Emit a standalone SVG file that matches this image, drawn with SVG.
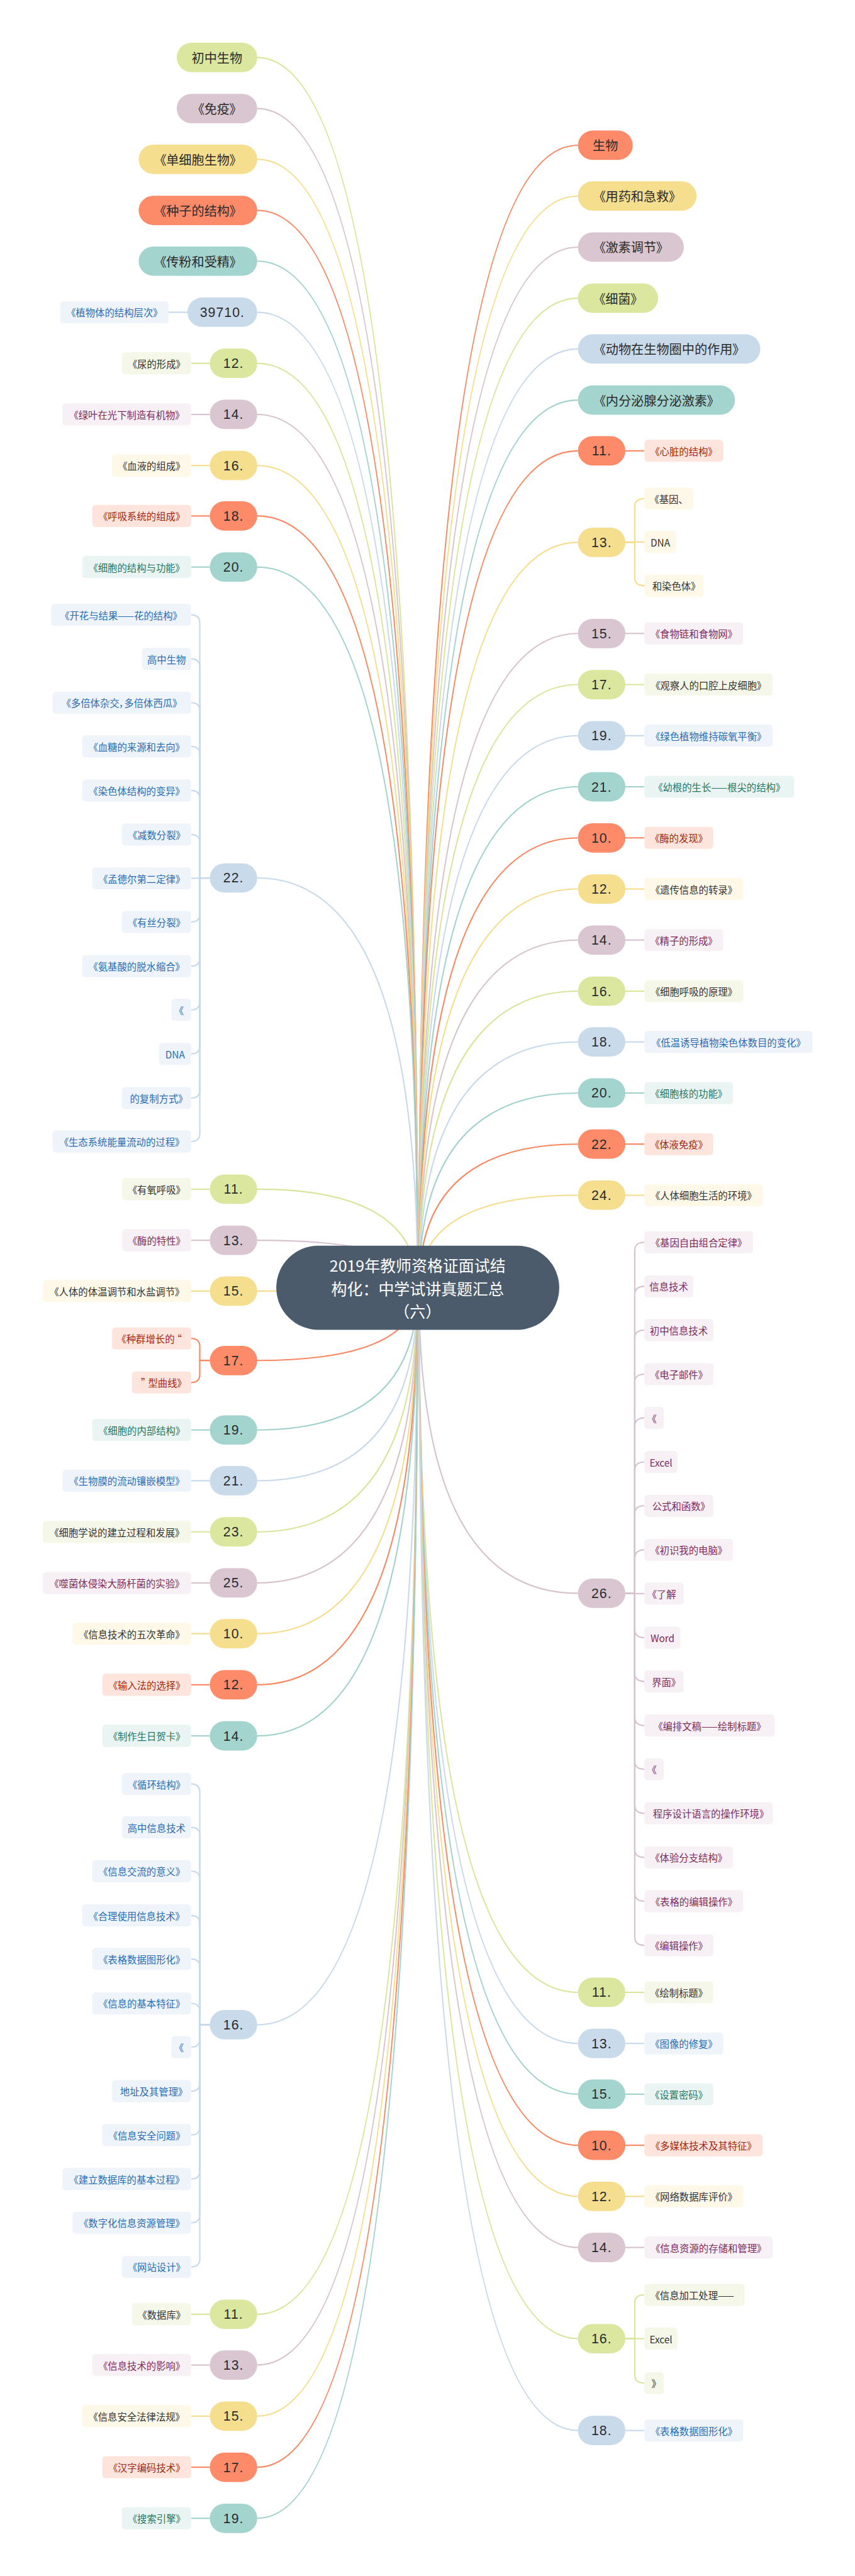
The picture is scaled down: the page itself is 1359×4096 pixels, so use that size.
<svg xmlns="http://www.w3.org/2000/svg" width="1359" height="4096" viewBox="0 0 1359 4096">
<style>
text{font-family:"Noto Sans CJK SC","Noto Sans",sans-serif;dominant-baseline:central;text-anchor:middle;font-feature-settings:"palt"}
.t1{font-size:38px;fill:#2b2b2b}
.tn{font-family:"Liberation Sans","Noto Sans",sans-serif;font-size:40px;fill:#2b2b2b;letter-spacing:2px}
.t2{font-size:29px}
.tc{font-size:47px;fill:#fff;font-feature-settings:normal}
.pg{fill:#dbe79e}.pm{fill:#d9c6d0}.py{fill:#f6de8f}.po{fill:#fd8a68}.pt{fill:#a4d4ce}.pb{fill:#c9dbeb}
.cg{fill:#f5f8e9}.cm{fill:#f7f0f4}.cy{fill:#fdf8e7}.co{fill:#fde5dd}.ct{fill:#eaf5f3}.cb{fill:#eef4fa}
.xg,.xy{fill:#333}.xm{fill:#7e2b5e}.xo{fill:#a3260e}.xt{fill:#1e7766}.xb{fill:#2a6cb3}
#connectors path{fill:none;stroke-width:4}
.sg{stroke:#d8e59b}.sm{stroke:#d7c3ce}.sy{stroke:#f4dd8d}.so{stroke:#f98762}.st{stroke:#a2d2cc}.sb{stroke:#c7d9ea}
</style>
<rect width="1359" height="4096" fill="#fff"/>
<g transform="scale(0.531)">
<g id="connectors">
<path class="sg" d="M770 172Q1250 172 1250 3856"/>
<path class="sm" d="M770 325Q1250 325 1250 3856"/>
<path class="sy" d="M770 477Q1250 477 1250 3856"/>
<path class="so" d="M770 630Q1250 630 1250 3856"/>
<path class="st" d="M770 782Q1250 782 1250 3856"/>
<path class="sb" d="M770 935Q1250 935 1250 3856"/>
<path class="sg" d="M770 1088Q1250 1088 1250 3856"/>
<path class="sm" d="M770 1241Q1250 1241 1250 3856"/>
<path class="sy" d="M770 1394Q1250 1394 1250 3856"/>
<path class="so" d="M770 1545Q1250 1545 1250 3856"/>
<path class="st" d="M770 1698Q1250 1698 1250 3856"/>
<path class="sb" d="M770 2629Q1250 2629 1250 3856"/>
<path class="sg" d="M770 3561Q1250 3561 1250 3856"/>
<path class="sm" d="M770 3714Q1250 3714 1250 3856"/>
<path class="sy" d="M770 3866Q1250 3866 1250 3856"/>
<path class="so" d="M770 4074Q1250 4074 1250 3856"/>
<path class="st" d="M770 4282Q1250 4282 1250 3856"/>
<path class="sb" d="M770 4434Q1250 4434 1250 3856"/>
<path class="sg" d="M770 4587Q1250 4587 1250 3856"/>
<path class="sm" d="M770 4740Q1250 4740 1250 3856"/>
<path class="sy" d="M770 4892Q1250 4892 1250 3856"/>
<path class="so" d="M770 5045Q1250 5045 1250 3856"/>
<path class="st" d="M770 5198Q1250 5198 1250 3856"/>
<path class="sb" d="M770 6063Q1250 6063 1250 3856"/>
<path class="sg" d="M770 6930Q1250 6930 1250 3856"/>
<path class="sm" d="M770 7082Q1250 7082 1250 3856"/>
<path class="sy" d="M770 7235Q1250 7235 1250 3856"/>
<path class="so" d="M770 7388Q1250 7388 1250 3856"/>
<path class="st" d="M770 7541Q1250 7541 1250 3856"/>
<path class="so" d="M1730 435Q1254 435 1254 3856"/>
<path class="sy" d="M1730 587Q1254 587 1254 3856"/>
<path class="sm" d="M1730 740Q1254 740 1254 3856"/>
<path class="sg" d="M1730 893Q1254 893 1254 3856"/>
<path class="sb" d="M1730 1045Q1254 1045 1254 3856"/>
<path class="st" d="M1730 1198Q1254 1198 1254 3856"/>
<path class="so" d="M1730 1350Q1254 1350 1254 3856"/>
<path class="sy" d="M1730 1624Q1254 1624 1254 3856"/>
<path class="sm" d="M1730 1897Q1254 1897 1254 3856"/>
<path class="sg" d="M1730 2050Q1254 2050 1254 3856"/>
<path class="sb" d="M1730 2203Q1254 2203 1254 3856"/>
<path class="st" d="M1730 2356Q1254 2356 1254 3856"/>
<path class="so" d="M1730 2509Q1254 2509 1254 3856"/>
<path class="sy" d="M1730 2662Q1254 2662 1254 3856"/>
<path class="sm" d="M1730 2815Q1254 2815 1254 3856"/>
<path class="sg" d="M1730 2968Q1254 2968 1254 3856"/>
<path class="sb" d="M1730 3120Q1254 3120 1254 3856"/>
<path class="st" d="M1730 3273Q1254 3273 1254 3856"/>
<path class="so" d="M1730 3426Q1254 3426 1254 3856"/>
<path class="sy" d="M1730 3579Q1254 3579 1254 3856"/>
<path class="sm" d="M1730 4771Q1254 4771 1254 3856"/>
<path class="sg" d="M1730 5966Q1254 5966 1254 3856"/>
<path class="sb" d="M1730 6119Q1254 6119 1254 3856"/>
<path class="st" d="M1730 6271Q1254 6271 1254 3856"/>
<path class="so" d="M1730 6424Q1254 6424 1254 3856"/>
<path class="sy" d="M1730 6577Q1254 6577 1254 3856"/>
<path class="sm" d="M1730 6730Q1254 6730 1254 3856"/>
<path class="sg" d="M1730 7003Q1254 7003 1254 3856"/>
<path class="sb" d="M1730 7278Q1254 7278 1254 3856"/>
<path class="sb" d="M505 935H561"/>
<path class="sg" d="M572 1088H628"/>
<path class="sm" d="M572 1241H628"/>
<path class="sy" d="M572 1394H628"/>
<path class="so" d="M572 1545H628"/>
<path class="st" d="M572 1698H628"/>
<path class="sg" d="M572 3561H628"/>
<path class="sm" d="M572 3714H628"/>
<path class="sy" d="M572 3866H628"/>
<path class="st" d="M572 4282H628"/>
<path class="sb" d="M572 4434H628"/>
<path class="sg" d="M572 4587H628"/>
<path class="sm" d="M572 4740H628"/>
<path class="sy" d="M572 4892H628"/>
<path class="so" d="M572 5045H628"/>
<path class="st" d="M572 5198H628"/>
<path class="sg" d="M572 6930H628"/>
<path class="sm" d="M572 7082H628"/>
<path class="sy" d="M572 7235H628"/>
<path class="so" d="M572 7388H628"/>
<path class="st" d="M572 7541H628"/>
<path class="sb" d="M572 1841Q598 1841 598 1865V2629H628"/>
<path class="sb" d="M572 1973Q598 1973 598 1997V2629H628"/>
<path class="sb" d="M572 2104Q598 2104 598 2128V2629H628"/>
<path class="sb" d="M572 2235Q598 2235 598 2259V2629H628"/>
<path class="sb" d="M572 2367Q598 2367 598 2391V2629H628"/>
<path class="sb" d="M572 2499Q598 2499 598 2523V2629H628"/>
<path class="sb" d="M572 2630H628"/>
<path class="sb" d="M572 2761Q598 2761 598 2737V2629H628"/>
<path class="sb" d="M572 2893Q598 2893 598 2869V2629H628"/>
<path class="sb" d="M572 3024Q598 3024 598 3000V2629H628"/>
<path class="sb" d="M572 3156Q598 3156 598 3132V2629H628"/>
<path class="sb" d="M572 3288Q598 3288 598 3264V2629H628"/>
<path class="sb" d="M572 3418Q598 3418 598 3394V2629H628"/>
<path class="so" d="M572 4008Q598 4008 598 4032V4074H628"/>
<path class="so" d="M572 4140Q598 4140 598 4116V4074H628"/>
<path class="sb" d="M572 5342Q598 5342 598 5366V6063H628"/>
<path class="sb" d="M572 5472Q598 5472 598 5496V6063H628"/>
<path class="sb" d="M572 5603Q598 5603 598 5627V6063H628"/>
<path class="sb" d="M572 5736Q598 5736 598 5760V6063H628"/>
<path class="sb" d="M572 5866Q598 5866 598 5890V6063H628"/>
<path class="sb" d="M572 5999Q598 5999 598 6023V6063H628"/>
<path class="sb" d="M572 6130Q598 6130 598 6106V6063H628"/>
<path class="sb" d="M572 6262Q598 6262 598 6238V6063H628"/>
<path class="sb" d="M572 6393Q598 6393 598 6369V6063H628"/>
<path class="sb" d="M572 6525Q598 6525 598 6501V6063H628"/>
<path class="sb" d="M572 6656Q598 6656 598 6632V6063H628"/>
<path class="sb" d="M572 6788Q598 6788 598 6764V6063H628"/>
<path class="so" d="M1872 1350H1929"/>
<path class="sm" d="M1872 1897H1929"/>
<path class="sg" d="M1872 2050H1929"/>
<path class="sb" d="M1872 2203H1929"/>
<path class="st" d="M1872 2356H1929"/>
<path class="so" d="M1872 2509H1929"/>
<path class="sy" d="M1872 2662H1929"/>
<path class="sm" d="M1872 2815H1929"/>
<path class="sg" d="M1872 2968H1929"/>
<path class="sb" d="M1872 3120H1929"/>
<path class="st" d="M1872 3273H1929"/>
<path class="so" d="M1872 3426H1929"/>
<path class="sy" d="M1872 3579H1929"/>
<path class="sg" d="M1872 5966H1929"/>
<path class="sb" d="M1872 6119H1929"/>
<path class="st" d="M1872 6271H1929"/>
<path class="so" d="M1872 6424H1929"/>
<path class="sy" d="M1872 6577H1929"/>
<path class="sm" d="M1872 6730H1929"/>
<path class="sb" d="M1872 7278H1929"/>
<path class="sy" d="M1929 1493Q1900 1493 1900 1517V1624H1872"/>
<path class="sy" d="M1929 1623H1872"/>
<path class="sy" d="M1929 1754Q1900 1754 1900 1730V1624H1872"/>
<path class="sm" d="M1929 3720Q1900 3720 1900 3744V4771H1872"/>
<path class="sm" d="M1929 3852Q1900 3852 1900 3876V4771H1872"/>
<path class="sm" d="M1929 3983Q1900 3983 1900 4007V4771H1872"/>
<path class="sm" d="M1929 4115Q1900 4115 1900 4139V4771H1872"/>
<path class="sm" d="M1929 4246Q1900 4246 1900 4270V4771H1872"/>
<path class="sm" d="M1929 4378Q1900 4378 1900 4402V4771H1872"/>
<path class="sm" d="M1929 4509Q1900 4509 1900 4533V4771H1872"/>
<path class="sm" d="M1929 4641Q1900 4641 1900 4665V4771H1872"/>
<path class="sm" d="M1929 4772H1872"/>
<path class="sm" d="M1929 4904Q1900 4904 1900 4880V4771H1872"/>
<path class="sm" d="M1929 5035Q1900 5035 1900 5011V4771H1872"/>
<path class="sm" d="M1929 5167Q1900 5167 1900 5143V4771H1872"/>
<path class="sm" d="M1929 5298Q1900 5298 1900 5274V4771H1872"/>
<path class="sm" d="M1929 5430Q1900 5430 1900 5406V4771H1872"/>
<path class="sm" d="M1929 5562Q1900 5562 1900 5538V4771H1872"/>
<path class="sm" d="M1929 5693Q1900 5693 1900 5669V4771H1872"/>
<path class="sm" d="M1929 5825Q1900 5825 1900 5801V4771H1872"/>
<path class="sg" d="M1929 6872Q1900 6872 1900 6896V7003H1872"/>
<path class="sg" d="M1929 7003H1872"/>
<path class="sg" d="M1929 7136Q1900 7136 1900 7112V7003H1872"/>
</g>

<g id="root"><rect x="827" y="3730" width="847" height="252" rx="126" fill="#4b5b6b"/>
<text class="tc" x="1250" y="3787">2019年教师资格证面试结</text>
<text class="tc" x="1250" y="3856">构化：中学试讲真题汇总</text>
<text class="tc" x="1250" y="3925">（六）</text></g>

<g id="L01"><rect class="pg" x="529" y="128" width="241" height="88" rx="44"/><text class="t1" x="649.5" y="172">初中生物</text></g>
<g id="L02"><rect class="pm" x="529" y="281" width="241" height="88" rx="44"/><text class="t1" x="649.5" y="325">《免疫》</text></g>
<g id="L03"><rect class="py" x="415" y="433" width="355" height="88" rx="44"/><text class="t1" x="592.5" y="477">《单细胞生物》</text></g>
<g id="L04"><rect class="po" x="415" y="586" width="355" height="88" rx="44"/><text class="t1" x="592.5" y="630">《种子的结构》</text></g>
<g id="L05"><rect class="pt" x="415" y="738" width="355" height="88" rx="44"/><text class="t1" x="592.5" y="782">《传粉和受精》</text></g>
<g id="L06"><rect class="pb" x="561" y="891" width="209" height="88" rx="44"/><text class="tn" x="665.5" y="935">39710.</text></g>
<g id="L07"><rect class="pg" x="628" y="1044" width="142" height="88" rx="44"/><text class="tn" x="699" y="1088">12.</text></g>
<g id="L08"><rect class="pm" x="628" y="1197" width="142" height="88" rx="44"/><text class="tn" x="699" y="1241">14.</text></g>
<g id="L09"><rect class="py" x="628" y="1350" width="142" height="88" rx="44"/><text class="tn" x="699" y="1394">16.</text></g>
<g id="L10"><rect class="po" x="628" y="1501" width="142" height="88" rx="44"/><text class="tn" x="699" y="1545">18.</text></g>
<g id="L11"><rect class="pt" x="628" y="1654" width="142" height="88" rx="44"/><text class="tn" x="699" y="1698">20.</text></g>
<g id="L12"><rect class="pb" x="628" y="2585" width="142" height="88" rx="44"/><text class="tn" x="699" y="2629">22.</text></g>
<g id="L13"><rect class="pg" x="628" y="3517" width="142" height="88" rx="44"/><text class="tn" x="699" y="3561">11.</text></g>
<g id="L14"><rect class="pm" x="628" y="3670" width="142" height="88" rx="44"/><text class="tn" x="699" y="3714">13.</text></g>
<g id="L15"><rect class="py" x="628" y="3822" width="142" height="88" rx="44"/><text class="tn" x="699" y="3866">15.</text></g>
<g id="L16"><rect class="po" x="628" y="4030" width="142" height="88" rx="44"/><text class="tn" x="699" y="4074">17.</text></g>
<g id="L17"><rect class="pt" x="628" y="4238" width="142" height="88" rx="44"/><text class="tn" x="699" y="4282">19.</text></g>
<g id="L18"><rect class="pb" x="628" y="4390" width="142" height="88" rx="44"/><text class="tn" x="699" y="4434">21.</text></g>
<g id="L19"><rect class="pg" x="628" y="4543" width="142" height="88" rx="44"/><text class="tn" x="699" y="4587">23.</text></g>
<g id="L20"><rect class="pm" x="628" y="4696" width="142" height="88" rx="44"/><text class="tn" x="699" y="4740">25.</text></g>
<g id="L21"><rect class="py" x="628" y="4848" width="142" height="88" rx="44"/><text class="tn" x="699" y="4892">10.</text></g>
<g id="L22"><rect class="po" x="628" y="5001" width="142" height="88" rx="44"/><text class="tn" x="699" y="5045">12.</text></g>
<g id="L23"><rect class="pt" x="628" y="5154" width="142" height="88" rx="44"/><text class="tn" x="699" y="5198">14.</text></g>
<g id="L24"><rect class="pb" x="628" y="6019" width="142" height="88" rx="44"/><text class="tn" x="699" y="6063">16.</text></g>
<g id="L25"><rect class="pg" x="628" y="6886" width="142" height="88" rx="44"/><text class="tn" x="699" y="6930">11.</text></g>
<g id="L26"><rect class="pm" x="628" y="7038" width="142" height="88" rx="44"/><text class="tn" x="699" y="7082">13.</text></g>
<g id="L27"><rect class="py" x="628" y="7191" width="142" height="88" rx="44"/><text class="tn" x="699" y="7235">15.</text></g>
<g id="L28"><rect class="po" x="628" y="7344" width="142" height="88" rx="44"/><text class="tn" x="699" y="7388">17.</text></g>
<g id="L29"><rect class="pt" x="628" y="7497" width="142" height="88" rx="44"/><text class="tn" x="699" y="7541">19.</text></g>

<g id="L06-1"><rect class="cb" x="180" y="902" width="325" height="66" rx="10"/><text class="t2 xb" x="342.5" y="935">《植物体的结构层次》</text></g>
<g id="L07-1"><rect class="cg" x="365" y="1055" width="207" height="66" rx="10"/><text class="t2 xg" x="468.5" y="1088">《尿的形成》</text></g>
<g id="L08-1"><rect class="cm" x="187" y="1208" width="385" height="66" rx="10"/><text class="t2 xm" x="379.5" y="1241">《绿叶在光下制造有机物》</text></g>
<g id="L09-1"><rect class="cy" x="335" y="1361" width="237" height="66" rx="10"/><text class="t2 xy" x="453.5" y="1394">《血液的组成》</text></g>
<g id="L10-1"><rect class="co" x="276" y="1512" width="296" height="66" rx="10"/><text class="t2 xo" x="424" y="1545">《呼吸系统的组成》</text></g>
<g id="L11-1"><rect class="ct" x="246" y="1665" width="326" height="66" rx="10"/><text class="t2 xt" x="409" y="1698">《细胞的结构与功能》</text></g>
<g id="L12-1"><rect class="cb" x="153" y="1808" width="419" height="66" rx="10"/><text class="t2 xb" x="362.5" y="1841">《开花与结果——花的结构》</text></g>
<g id="L12-2"><rect class="cb" x="425" y="1940" width="147" height="66" rx="10"/><text class="t2 xb" x="498.5" y="1973">高中生物</text></g>
<g id="L12-3"><rect class="cb" x="157" y="2071" width="415" height="66" rx="10"/><text class="t2 xb" x="364.5" y="2104">《多倍体杂交，多倍体西瓜》</text></g>
<g id="L12-4"><rect class="cb" x="246" y="2202" width="326" height="66" rx="10"/><text class="t2 xb" x="409" y="2235">《血糖的来源和去向》</text></g>
<g id="L12-5"><rect class="cb" x="246" y="2334" width="326" height="66" rx="10"/><text class="t2 xb" x="409" y="2367">《染色体结构的变异》</text></g>
<g id="L12-6"><rect class="cb" x="365" y="2466" width="207" height="66" rx="10"/><text class="t2 xb" x="468.5" y="2499">《减数分裂》</text></g>
<g id="L12-7"><rect class="cb" x="276" y="2597" width="296" height="66" rx="10"/><text class="t2 xb" x="424" y="2630">《孟德尔第二定律》</text></g>
<g id="L12-8"><rect class="cb" x="365" y="2728" width="207" height="66" rx="10"/><text class="t2 xb" x="468.5" y="2761">《有丝分裂》</text></g>
<g id="L12-9"><rect class="cb" x="246" y="2860" width="326" height="66" rx="10"/><text class="t2 xb" x="409" y="2893">《氨基酸的脱水缩合》</text></g>
<g id="L12-10"><rect class="cb" x="513" y="2991" width="59" height="66" rx="10"/><text class="t2 xb" x="542.5" y="3024">《</text></g>
<g id="L12-11"><rect class="cb" x="476" y="3123" width="96" height="66" rx="10"/><text class="t2 xb" x="524" y="3156">DNA</text></g>
<g id="L12-12"><rect class="cb" x="365" y="3255" width="207" height="66" rx="10"/><text class="t2 xb" x="468.5" y="3288">的复制方式》</text></g>
<g id="L12-13"><rect class="cb" x="157" y="3385" width="415" height="66" rx="10"/><text class="t2 xb" x="364.5" y="3418">《生态系统能量流动的过程》</text></g>
<g id="L13-1"><rect class="cg" x="365" y="3528" width="207" height="66" rx="10"/><text class="t2 xg" x="468.5" y="3561">《有氧呼吸》</text></g>
<g id="L14-1"><rect class="cm" x="365" y="3681" width="207" height="66" rx="10"/><text class="t2 xm" x="468.5" y="3714">《酶的特性》</text></g>
<g id="L15-1"><rect class="cy" x="128" y="3833" width="444" height="66" rx="10"/><text class="t2 xy" x="350" y="3866">《人体的体温调节和水盐调节》</text></g>
<g id="L16-1"><rect class="co" x="335" y="3975" width="237" height="66" rx="10"/><text class="t2 xo" x="453.5" y="4008">《种群增长的 “</text></g>
<g id="L16-2"><rect class="co" x="395" y="4107" width="177" height="66" rx="10"/><text class="t2 xo" x="483.5" y="4140">” 型曲线》</text></g>
<g id="L17-1"><rect class="ct" x="276" y="4249" width="296" height="66" rx="10"/><text class="t2 xt" x="424" y="4282">《细胞的内部结构》</text></g>
<g id="L18-1"><rect class="cb" x="187" y="4401" width="385" height="66" rx="10"/><text class="t2 xb" x="379.5" y="4434">《生物膜的流动镶嵌模型》</text></g>
<g id="L19-1"><rect class="cg" x="128" y="4554" width="444" height="66" rx="10"/><text class="t2 xg" x="350" y="4587">《细胞学说的建立过程和发展》</text></g>
<g id="L20-1"><rect class="cm" x="128" y="4707" width="444" height="66" rx="10"/><text class="t2 xm" x="350" y="4740">《噬菌体侵染大肠杆菌的实验》</text></g>
<g id="L21-1"><rect class="cy" x="217" y="4859" width="355" height="66" rx="10"/><text class="t2 xy" x="394.5" y="4892">《信息技术的五次革命》</text></g>
<g id="L22-1"><rect class="co" x="306" y="5012" width="266" height="66" rx="10"/><text class="t2 xo" x="439" y="5045">《输入法的选择》</text></g>
<g id="L23-1"><rect class="ct" x="306" y="5165" width="266" height="66" rx="10"/><text class="t2 xt" x="439" y="5198">《制作生日贺卡》</text></g>
<g id="L24-1"><rect class="cb" x="365" y="5309" width="207" height="66" rx="10"/><text class="t2 xb" x="468.5" y="5342">《循环结构》</text></g>
<g id="L24-2"><rect class="cb" x="365" y="5439" width="207" height="66" rx="10"/><text class="t2 xb" x="468.5" y="5472">高中信息技术</text></g>
<g id="L24-3"><rect class="cb" x="276" y="5570" width="296" height="66" rx="10"/><text class="t2 xb" x="424" y="5603">《信息交流的意义》</text></g>
<g id="L24-4"><rect class="cb" x="246" y="5703" width="326" height="66" rx="10"/><text class="t2 xb" x="409" y="5736">《合理使用信息技术》</text></g>
<g id="L24-5"><rect class="cb" x="276" y="5833" width="296" height="66" rx="10"/><text class="t2 xb" x="424" y="5866">《表格数据图形化》</text></g>
<g id="L24-6"><rect class="cb" x="276" y="5966" width="296" height="66" rx="10"/><text class="t2 xb" x="424" y="5999">《信息的基本特征》</text></g>
<g id="L24-7"><rect class="cb" x="513" y="6097" width="59" height="66" rx="10"/><text class="t2 xb" x="542.5" y="6130">《</text></g>
<g id="L24-8"><rect class="cb" x="335" y="6229" width="237" height="66" rx="10"/><text class="t2 xb" x="453.5" y="6262">地址及其管理》</text></g>
<g id="L24-9"><rect class="cb" x="306" y="6360" width="266" height="66" rx="10"/><text class="t2 xb" x="439" y="6393">《信息安全问题》</text></g>
<g id="L24-10"><rect class="cb" x="187" y="6492" width="385" height="66" rx="10"/><text class="t2 xb" x="379.5" y="6525">《建立数据库的基本过程》</text></g>
<g id="L24-11"><rect class="cb" x="217" y="6623" width="355" height="66" rx="10"/><text class="t2 xb" x="394.5" y="6656">《数字化信息资源管理》</text></g>
<g id="L24-12"><rect class="cb" x="365" y="6755" width="207" height="66" rx="10"/><text class="t2 xb" x="468.5" y="6788">《网站设计》</text></g>
<g id="L25-1"><rect class="cg" x="395" y="6897" width="177" height="66" rx="10"/><text class="t2 xg" x="483.5" y="6930">《数据库》</text></g>
<g id="L26-1"><rect class="cm" x="276" y="7049" width="296" height="66" rx="10"/><text class="t2 xm" x="424" y="7082">《信息技术的影响》</text></g>
<g id="L27-1"><rect class="cy" x="246" y="7202" width="326" height="66" rx="10"/><text class="t2 xy" x="409" y="7235">《信息安全法律法规》</text></g>
<g id="L28-1"><rect class="co" x="306" y="7355" width="266" height="66" rx="10"/><text class="t2 xo" x="439" y="7388">《汉字编码技术》</text></g>
<g id="L29-1"><rect class="ct" x="365" y="7508" width="207" height="66" rx="10"/><text class="t2 xt" x="468.5" y="7541">《搜索引擎》</text></g>

<g id="R01"><rect class="po" x="1730" y="391" width="164" height="88" rx="44"/><text class="t1" x="1812" y="435">生物</text></g>
<g id="R02"><rect class="py" x="1730" y="543" width="355" height="88" rx="44"/><text class="t1" x="1907.5" y="587">《用药和急救》</text></g>
<g id="R03"><rect class="pm" x="1730" y="696" width="317" height="88" rx="44"/><text class="t1" x="1888.5" y="740">《激素调节》</text></g>
<g id="R04"><rect class="pg" x="1730" y="849" width="240" height="88" rx="44"/><text class="t1" x="1850" y="893">《细菌》</text></g>
<g id="R05"><rect class="pb" x="1730" y="1001" width="546" height="88" rx="44"/><text class="t1" x="2003" y="1045">《动物在生物圈中的作用》</text></g>
<g id="R06"><rect class="pt" x="1730" y="1154" width="470" height="88" rx="44"/><text class="t1" x="1965" y="1198">《内分泌腺分泌激素》</text></g>
<g id="R07"><rect class="po" x="1730" y="1306" width="142" height="88" rx="44"/><text class="tn" x="1801" y="1350">11.</text></g>
<g id="R08"><rect class="py" x="1730" y="1580" width="142" height="88" rx="44"/><text class="tn" x="1801" y="1624">13.</text></g>
<g id="R09"><rect class="pm" x="1730" y="1853" width="142" height="88" rx="44"/><text class="tn" x="1801" y="1897">15.</text></g>
<g id="R10"><rect class="pg" x="1730" y="2006" width="142" height="88" rx="44"/><text class="tn" x="1801" y="2050">17.</text></g>
<g id="R11"><rect class="pb" x="1730" y="2159" width="142" height="88" rx="44"/><text class="tn" x="1801" y="2203">19.</text></g>
<g id="R12"><rect class="pt" x="1730" y="2312" width="142" height="88" rx="44"/><text class="tn" x="1801" y="2356">21.</text></g>
<g id="R13"><rect class="po" x="1730" y="2465" width="142" height="88" rx="44"/><text class="tn" x="1801" y="2509">10.</text></g>
<g id="R14"><rect class="py" x="1730" y="2618" width="142" height="88" rx="44"/><text class="tn" x="1801" y="2662">12.</text></g>
<g id="R15"><rect class="pm" x="1730" y="2771" width="142" height="88" rx="44"/><text class="tn" x="1801" y="2815">14.</text></g>
<g id="R16"><rect class="pg" x="1730" y="2924" width="142" height="88" rx="44"/><text class="tn" x="1801" y="2968">16.</text></g>
<g id="R17"><rect class="pb" x="1730" y="3076" width="142" height="88" rx="44"/><text class="tn" x="1801" y="3120">18.</text></g>
<g id="R18"><rect class="pt" x="1730" y="3229" width="142" height="88" rx="44"/><text class="tn" x="1801" y="3273">20.</text></g>
<g id="R19"><rect class="po" x="1730" y="3382" width="142" height="88" rx="44"/><text class="tn" x="1801" y="3426">22.</text></g>
<g id="R20"><rect class="py" x="1730" y="3535" width="142" height="88" rx="44"/><text class="tn" x="1801" y="3579">24.</text></g>
<g id="R21"><rect class="pm" x="1730" y="4727" width="142" height="88" rx="44"/><text class="tn" x="1801" y="4771">26.</text></g>
<g id="R22"><rect class="pg" x="1730" y="5922" width="142" height="88" rx="44"/><text class="tn" x="1801" y="5966">11.</text></g>
<g id="R23"><rect class="pb" x="1730" y="6075" width="142" height="88" rx="44"/><text class="tn" x="1801" y="6119">13.</text></g>
<g id="R24"><rect class="pt" x="1730" y="6227" width="142" height="88" rx="44"/><text class="tn" x="1801" y="6271">15.</text></g>
<g id="R25"><rect class="po" x="1730" y="6380" width="142" height="88" rx="44"/><text class="tn" x="1801" y="6424">10.</text></g>
<g id="R26"><rect class="py" x="1730" y="6533" width="142" height="88" rx="44"/><text class="tn" x="1801" y="6577">12.</text></g>
<g id="R27"><rect class="pm" x="1730" y="6686" width="142" height="88" rx="44"/><text class="tn" x="1801" y="6730">14.</text></g>
<g id="R28"><rect class="pg" x="1730" y="6959" width="142" height="88" rx="44"/><text class="tn" x="1801" y="7003">16.</text></g>
<g id="R29"><rect class="pb" x="1730" y="7234" width="142" height="88" rx="44"/><text class="tn" x="1801" y="7278">18.</text></g>

<g id="R07-1"><rect class="co" x="1929" y="1317" width="236" height="66" rx="10"/><text class="t2 xo" x="2047" y="1350">《心脏的结构》</text></g>
<g id="R08-1"><rect class="cy" x="1929" y="1460" width="146" height="66" rx="10"/><text class="t2 xy" x="2002" y="1493">《基因、</text></g>
<g id="R08-2"><rect class="cy" x="1929" y="1590" width="95" height="66" rx="10"/><text class="t2 xy" x="1976.5" y="1623">DNA</text></g>
<g id="R08-3"><rect class="cy" x="1929" y="1721" width="177" height="66" rx="10"/><text class="t2 xy" x="2017.5" y="1754">和染色体》</text></g>
<g id="R09-1"><rect class="cm" x="1929" y="1864" width="296" height="66" rx="10"/><text class="t2 xm" x="2077" y="1897">《食物链和食物网》</text></g>
<g id="R10-1"><rect class="cg" x="1929" y="2017" width="384" height="66" rx="10"/><text class="t2 xg" x="2121" y="2050">《观察人的口腔上皮细胞》</text></g>
<g id="R11-1"><rect class="cb" x="1929" y="2170" width="384" height="66" rx="10"/><text class="t2 xb" x="2121" y="2203">《绿色植物维持碳氧平衡》</text></g>
<g id="R12-1"><rect class="ct" x="1929" y="2323" width="448" height="66" rx="10"/><text class="t2 xt" x="2153" y="2356">《幼根的生长——根尖的结构》</text></g>
<g id="R13-1"><rect class="co" x="1929" y="2476" width="206" height="66" rx="10"/><text class="t2 xo" x="2032" y="2509">《酶的发现》</text></g>
<g id="R14-1"><rect class="cy" x="1929" y="2629" width="296" height="66" rx="10"/><text class="t2 xy" x="2077" y="2662">《遗传信息的转录》</text></g>
<g id="R15-1"><rect class="cm" x="1929" y="2782" width="236" height="66" rx="10"/><text class="t2 xm" x="2047" y="2815">《精子的形成》</text></g>
<g id="R16-1"><rect class="cg" x="1929" y="2935" width="296" height="66" rx="10"/><text class="t2 xg" x="2077" y="2968">《细胞呼吸的原理》</text></g>
<g id="R17-1"><rect class="cb" x="1929" y="3087" width="503" height="66" rx="10"/><text class="t2 xb" x="2180.5" y="3120">《低温诱导植物染色体数目的变化》</text></g>
<g id="R18-1"><rect class="ct" x="1929" y="3240" width="265" height="66" rx="10"/><text class="t2 xt" x="2061.5" y="3273">《细胞核的功能》</text></g>
<g id="R19-1"><rect class="co" x="1929" y="3393" width="206" height="66" rx="10"/><text class="t2 xo" x="2032" y="3426">《体液免疫》</text></g>
<g id="R20-1"><rect class="cy" x="1929" y="3546" width="354" height="66" rx="10"/><text class="t2 xy" x="2106" y="3579">《人体细胞生活的环境》</text></g>
<g id="R21-1"><rect class="cm" x="1929" y="3687" width="325" height="66" rx="10"/><text class="t2 xm" x="2091.5" y="3720">《基因自由组合定律》</text></g>
<g id="R21-2"><rect class="cm" x="1929" y="3819" width="146" height="66" rx="10"/><text class="t2 xm" x="2002" y="3852">信息技术</text></g>
<g id="R21-3"><rect class="cm" x="1929" y="3950" width="206" height="66" rx="10"/><text class="t2 xm" x="2032" y="3983">初中信息技术</text></g>
<g id="R21-4"><rect class="cm" x="1929" y="4082" width="206" height="66" rx="10"/><text class="t2 xm" x="2032" y="4115">《电子邮件》</text></g>
<g id="R21-5"><rect class="cm" x="1929" y="4213" width="58" height="66" rx="10"/><text class="t2 xm" x="1958" y="4246">《</text></g>
<g id="R21-6"><rect class="cm" x="1929" y="4345" width="99" height="66" rx="10"/><text class="t2 xm" x="1978.5" y="4378">Excel</text></g>
<g id="R21-7"><rect class="cm" x="1929" y="4476" width="206" height="66" rx="10"/><text class="t2 xm" x="2032" y="4509">公式和函数》</text></g>
<g id="R21-8"><rect class="cm" x="1929" y="4608" width="265" height="66" rx="10"/><text class="t2 xm" x="2061.5" y="4641">《初识我的电脑》</text></g>
<g id="R21-9"><rect class="cm" x="1929" y="4739" width="117" height="66" rx="10"/><text class="t2 xm" x="1987.5" y="4772">《了解</text></g>
<g id="R21-10"><rect class="cm" x="1929" y="4871" width="108" height="66" rx="10"/><text class="t2 xm" x="1983" y="4904">Word</text></g>
<g id="R21-11"><rect class="cm" x="1929" y="5002" width="117" height="66" rx="10"/><text class="t2 xm" x="1987.5" y="5035">界面》</text></g>
<g id="R21-12"><rect class="cm" x="1929" y="5134" width="390" height="66" rx="10"/><text class="t2 xm" x="2124" y="5167">《编排文稿——绘制标题》</text></g>
<g id="R21-13"><rect class="cm" x="1929" y="5265" width="58" height="66" rx="10"/><text class="t2 xm" x="1958" y="5298">《</text></g>
<g id="R21-14"><rect class="cm" x="1929" y="5397" width="384" height="66" rx="10"/><text class="t2 xm" x="2121" y="5430">程序设计语言的操作环境》</text></g>
<g id="R21-15"><rect class="cm" x="1929" y="5529" width="265" height="66" rx="10"/><text class="t2 xm" x="2061.5" y="5562">《体验分支结构》</text></g>
<g id="R21-16"><rect class="cm" x="1929" y="5660" width="296" height="66" rx="10"/><text class="t2 xm" x="2077" y="5693">《表格的编辑操作》</text></g>
<g id="R21-17"><rect class="cm" x="1929" y="5792" width="206" height="66" rx="10"/><text class="t2 xm" x="2032" y="5825">《编辑操作》</text></g>
<g id="R22-1"><rect class="cg" x="1929" y="5933" width="206" height="66" rx="10"/><text class="t2 xg" x="2032" y="5966">《绘制标题》</text></g>
<g id="R23-1"><rect class="cb" x="1929" y="6086" width="236" height="66" rx="10"/><text class="t2 xb" x="2047" y="6119">《图像的修复》</text></g>
<g id="R24-1"><rect class="ct" x="1929" y="6238" width="206" height="66" rx="10"/><text class="t2 xt" x="2032" y="6271">《设置密码》</text></g>
<g id="R25-1"><rect class="co" x="1929" y="6391" width="354" height="66" rx="10"/><text class="t2 xo" x="2106" y="6424">《多媒体技术及其特征》</text></g>
<g id="R26-1"><rect class="cy" x="1929" y="6544" width="296" height="66" rx="10"/><text class="t2 xy" x="2077" y="6577">《网络数据库评价》</text></g>
<g id="R27-1"><rect class="cm" x="1929" y="6697" width="384" height="66" rx="10"/><text class="t2 xm" x="2121" y="6730">《信息资源的存储和管理》</text></g>
<g id="R28-1"><rect class="cg" x="1929" y="6839" width="300" height="66" rx="10"/><text class="t2 xg" x="2079" y="6872">《信息加工处理——</text></g>
<g id="R28-2"><rect class="cg" x="1929" y="6970" width="99" height="66" rx="10"/><text class="t2 xg" x="1978.5" y="7003">Excel</text></g>
<g id="R28-3"><rect class="cg" x="1929" y="7103" width="58" height="66" rx="10"/><text class="t2 xg" x="1958" y="7136">》</text></g>
<g id="R29-1"><rect class="cb" x="1929" y="7245" width="296" height="66" rx="10"/><text class="t2 xb" x="2077" y="7278">《表格数据图形化》</text></g>
</g>
</svg>
